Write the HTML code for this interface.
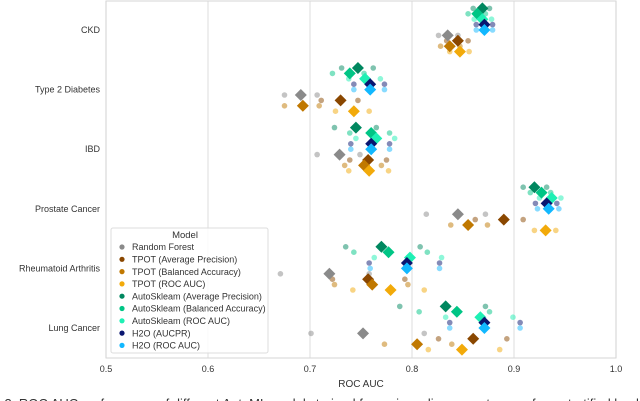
<!DOCTYPE html>
<html><head><meta charset="utf-8">
<style>
html,body{margin:0;padding:0;background:#fff;width:640px;height:401px;overflow:hidden}
svg{display:block;font-family:"Liberation Sans",sans-serif}
</style></head>
<body>
<svg id="chart" width="640" height="401" viewBox="0 0 640 401" xmlns="http://www.w3.org/2000/svg">
<g id="grid"></g>
<g id="marks"></g>
<g id="axes"></g>
<g id="legend"></g>
<text x="361" y="387" font-size="10" fill="#333" text-anchor="middle">ROC AUC</text>
<text x="-36" y="408" font-size="13" fill="#333">Figure 3. ROC AUC performance of different AutoML models trained for various disease outcomes from stratified heal</text>
</svg>
<script>
const categories = ["CKD","Type 2 Diabetes","IBD","Prostate Cancer","Rheumatoid Arthritis","Lung Cancer"];
const models = ["Random Forest","TPOT (Average Precision)","TPOT (Balanced Accuracy)","TPOT (ROC AUC)","AutoSkleam (Average Precision)","AutoSkleam (Balanced Accuracy)","AutoSkleam (ROC AUC)","H2O (AUCPR)","H2O (ROC AUC)"];
const colors = ["#8a8a8a","#8a4700","#c07800","#f2aa0a","#00875f","#00c585","#1ef0b4","#0a1670","#12b8ff"];
const xTicks = [0.5,0.6,0.7,0.8,0.9,1.0];
const xTickLabels = ["0.5","0.6","0.7","0.8","0.9","1.0"];
const means = [
 [0.835,0.845,0.837,0.847,0.869,0.864,0.869,0.871,0.871],
 [0.691,0.730,0.693,0.743,0.747,0.739,0.754,0.759,0.759],
 [0.729,0.757,0.753,0.758,0.745,0.760,0.765,0.760,0.760],
 [0.845,0.890,0.855,0.931,0.920,0.927,0.937,0.932,0.934],
 [0.719,0.757,0.761,0.779,0.770,0.777,0.798,0.795,0.795],
 [0.752,0.860,0.805,0.849,0.833,0.844,0.867,0.871,0.871]
];
const lows = [
 [0.826,0.834,0.828,0.837,0.860,0.855,0.861,0.863,0.863],
 [0.675,0.711,0.675,0.725,0.731,0.722,0.738,0.743,0.743],
 [0.707,0.739,0.734,0.738,0.724,0.739,0.745,0.740,0.740],
 [0.814,0.862,0.838,0.920,0.909,0.916,0.925,0.921,0.923],
 [0.671,0.722,0.724,0.742,0.735,0.743,0.763,0.758,0.759],
 [0.701,0.826,0.773,0.816,0.788,0.807,0.833,0.837,0.837]
];
const highs = [
 [0.845,0.855,0.847,0.856,0.876,0.872,0.878,0.879,0.879],
 [0.707,0.747,0.709,0.758,0.762,0.753,0.769,0.773,0.773],
 [0.749,0.775,0.770,0.777,0.765,0.778,0.783,0.778,0.778],
 [0.872,0.909,0.874,0.941,0.932,0.936,0.946,0.942,0.944],
 [0.758,0.793,0.796,0.812,0.808,0.815,0.829,0.827,0.827],
 [0.812,0.893,0.839,0.886,0.872,0.876,0.899,0.906,0.906]
];
const NS="http://www.w3.org/2000/svg";
const L=106,R=616,T=1,B=358;
const x=v=>L+(v-0.5)/0.5*(R-L);
const catY=i=>30+i*59.6;
const dodgeRank=[5,6,7,8,0,1,2,3,4];
const yOf=(c,m)=>catY(c)-21.6+dodgeRank[m]*5.4;
function mk(tag,attrs,parent){const e=document.createElementNS(NS,tag);for(const k in attrs)e.setAttribute(k,attrs[k]);parent.appendChild(e);return e;}
const grid=document.getElementById('grid'),marks=document.getElementById('marks'),axes=document.getElementById('axes'),leg=document.getElementById('legend');
xTicks.forEach((t,i)=>{
 const gl=mk('line',{x1:x(t),x2:x(t),y1:T,y2:B,stroke:'#e3e3e3','stroke-width':1.2},grid);
 
 
 const tl=mk('text',{x:x(t),y:B+14,'font-size':9,fill:'#333','text-anchor':'middle'},axes);
 tl.textContent=xTickLabels[i];
 
 
});
const frame=mk('rect',{x:L,y:T,width:R-L,height:B-T,fill:'none',stroke:'#d6d6d6','stroke-width':1},axes);


categories.forEach((c,ci)=>{
 const t=mk('text',{x:100,y:catY(ci)+3,'font-size':9,fill:'#333','text-anchor':'end'},axes);
 t.textContent=c;
 
 
 models.forEach((m,mi)=>{
  const y=yOf(ci,mi);
  [lows[ci][mi],highs[ci][mi]].forEach(v=>{
   const d=mk('circle',{cx:x(v),cy:y,r:2.8,fill:colors[mi],'fill-opacity':0.5},marks);
   
   
  });
 });
 models.forEach((m,mi)=>{
  const y=yOf(ci,mi),cx=x(means[ci][mi]),s=6;
  const p=mk('polygon',{points:`${cx},${y-s} ${cx+s},${y} ${cx},${y+s} ${cx-s},${y}`,fill:colors[mi]},marks);
  
  
 });
});
const box=mk('rect',{x:111,y:228,width:157,height:125,rx:2,fill:'#fff','fill-opacity':0.85,stroke:'#dcdcdc'},leg);


const lt=mk('text',{x:185,y:238,'font-size':9.5,fill:'#333','text-anchor':'middle'},leg);
lt.textContent='Model';


models.forEach((m,mi)=>{
 const y=247+mi*12.3;
 const c=mk('circle',{cx:122,cy:y,r:2.6,fill:colors[mi]},leg);
 
 
 const t=mk('text',{x:132,y:y+3.2,'font-size':9,fill:'#333'},leg);
 t.textContent=m;
 
 
});
</script>
</body></html>
